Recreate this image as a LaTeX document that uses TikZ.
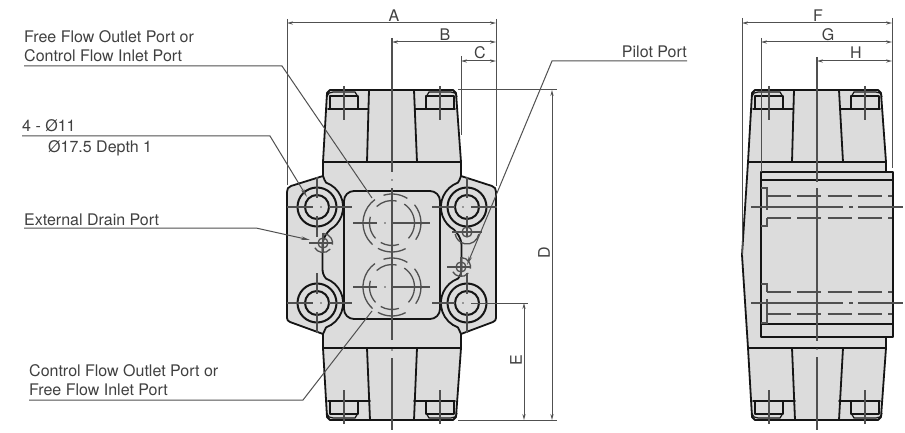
\documentclass[tikz,border=0pt]{standalone}
\usepackage{fontspec}
\setmainfont{TeX Gyre Heros}
\usetikzlibrary{arrows.meta}
\definecolor{bodygray}{HTML}{DCDCDC}
\definecolor{inkline}{HTML}{151515}
\definecolor{dimline}{HTML}{505050}
\definecolor{txtcol}{HTML}{404040}
\tikzset{
  x=1pt,y=-1pt,
  body/.style={fill=bodygray,draw=inkline,line width=1.8pt,line join=round},
  edge/.style={draw=inkline,line width=1.8pt,line cap=round,line join=round},
  thinedge/.style={draw=inkline,line width=1.2pt},
  ring/.style={draw=inkline,line width=2pt},
  centre/.style={draw=dimline,line width=1.2pt},
  hid/.style={draw=dimline,line width=1.3pt},
  dimension/.style={draw=dimline,line width=1pt,{Stealth[length=6pt,width=3.2pt]}-{Stealth[length=6pt,width=3.2pt]}},
  extline/.style={draw=dimline,line width=1pt},
  leader/.style={draw=dimline,line width=1pt},
  arrowleader/.style={draw=dimline,line width=1pt,-{Stealth[length=9pt,width=3.5pt]}},
  lab/.style={text=txtcol,font=\fontsize{16}{18}\selectfont,inner sep=0pt,anchor=base west},
  dimlab/.style={text=txtcol,font=\fontsize{16}{18}\selectfont,inner sep=0pt},
}
% one bolt head in its pocket: centre c, direction d
\newcommand{\boltpocket}[2]{%
  \draw[thinedge] ({#1-17*#2},97) .. controls ({#1-16*#2},93) and ({#1-14*#2},92) .. ({#1-11*#2},92) -- ({#1+11*#2},92) -- ({#1+14*#2},97);
  \draw[edge] ({#1-14*#2},109) -- ({#1-14*#2},96) -- ({#1+14*#2},96) -- ({#1+14*#2},109);
  \draw[centre] (#1,86) -- (#1,120);
}
% port circle of dashes
\newcommand{\portarcs}[2]{%
  \foreach \ra/\rb/\rr in {-107/-58/29,-39/35/29,62/119/29,132/234/29,-133/-78/22.5,-57/43/22.5,72/120/22.5,137/196/22.5}{
    \draw[hid] (#1,#2) ++(\ra:\rr) arc[start angle=\ra,end angle=\rb,radius=\rr];
  }
  \draw[centre] (353,#2) -- (377,#2);
  \draw[centre] (392,#2) -- (430,#2);
  \fill[dimline] (385,#2) circle (.8);
}
\begin{document}
\begin{tikzpicture}
\useasboundingbox (0,0) rectangle (905,433);
\fill[white] (0,0) rectangle (905,433);

% ---- FRONT VIEW ----
\draw[body] (330,90) -- (453,90) -- (456,93) -- (461,162) -- (461,176) -- (492,186)
  .. controls (495,187) and (496,189) .. (496,192) -- (496,318)
  .. controls (496,320) and (495,321) .. (493,322) -- (461,334) -- (461,348)
  -- (456,417) -- (453,420) -- (330,420) -- (327,417) -- (323,348) -- (323,334)
  -- (290,322) .. controls (288,321) and (287,320) .. (287,318) -- (287,192)
  .. controls (287,189) and (288,187) .. (291,186) -- (323,176) -- (323,162)
  -- (327,93) -- cycle;
\draw[edge] (323,162) -- (461,162);
\draw[edge] (323,348) -- (461,348);
\draw[edge] (369,90) -- (367,162);
\draw[edge] (414,90) -- (417,162);
\draw[edge] (367,348) -- (370,420);
\draw[edge] (417,348) -- (414,420);
\draw[edge] (328,109) -- (368.5,109);
\draw[edge] (415,109) -- (455,109);
\draw[edge] (328,401) -- (370,401);
\draw[edge] (414,401) -- (455,401);
\boltpocket{344}{1}
\boltpocket{440}{-1}
\begin{scope}[shift={(0,510)},yscale=-1]
  \boltpocket{344}{1}
  \boltpocket{440}{-1}
\end{scope}
% central recess
\draw[edge,rounded corners=10pt] (344,191) rectangle (440,319);
% scallops, left and mirrored right
\foreach \sx/\sg in {0/1,784/-1}{
\begin{scope}[shift={(\sx,0)},xscale=\sg]
  \draw[edge] (323,176) .. controls (324,179) and (325,181) .. (326,182.6)
     arc[start angle=-70,end angle=60,radius=26]
     .. controls (327,233) and (323,237) .. (322.5,245) -- (322.5,268)
     .. controls (322.5,272) and (323,275) .. (326,278.6)
     arc[start angle=-70,end angle=70,radius=26] -- (323,334);
\end{scope}}
% bolts
\foreach \bx/\by in {317/207,467/207,317/303,467/303}{
  \draw[ring] (\bx,\by) circle (19.5);
  \draw[ring] (\bx,\by) circle (12);
  \draw[centre] (\bx,{\by-30}) -- (\bx,{\by-9});
  \draw[centre] (\bx,{\by+9}) -- (\bx,{\by+30});
}
\foreach \by in {207,303}{
  \draw[centre] (287,\by) -- (313,\by);
  \fill[dimline] (321,\by) circle (.8);
  \draw[centre] (329,\by) -- (352,\by);
  \draw[centre] (432,\by) -- (455,\by);
  \fill[dimline] (463,\by) circle (.8);
}
\draw[centre] (471,207) -- (497,207);
\coordinate (eA) at (471,303);
\coordinate (eB) at (528,303);
\draw[extline] (eA) -- (eB);
% ports
\portarcs{392}{223}
\portarcs{392}{287}
% small ports
\foreach \px/\py in {323/243,461/267}{
  \draw[hid] (\px,\py) circle (5);
  \draw[hid] (\px,\py) ++(-90:9.5) arc[start angle=-90,end angle=10,radius=9.5];
  \draw[hid] (\px,\py) ++(40:9.5) arc[start angle=40,end angle=150,radius=9.5];
  \draw[centre] ({\px-14},\py) -- ({\px+10},\py);
  \draw[centre] (\px,{\py-10}) -- (\px,{\py+10});
}
\draw[hid] (467,232) ++(10:12) arc[start angle=10,end angle=170,radius=12];
\draw[hid] (467,232) circle (5);
\draw[centre] (452,232) -- (482,232);
% main centre line
\draw[centre] (392,38) -- (392,172);
\fill[dimline] (392,180) circle (.9);
\draw[centre] (392,188) -- (392,340);
\fill[dimline] (392,350) circle (.9);
\draw[centre] (392,358) -- (392,430);

% ---- SIDE VIEW ----
\draw[body] (755,90) -- (878,90) -- (881,93) -- (886,162) -- (886,348)
  -- (881,417) -- (878,420) -- (755,420) -- (752,417) -- (748,348) -- (742,255)
  -- (748,162) -- (752,93) -- cycle;
\draw[edge] (748,162) -- (886,162);
\draw[edge] (748,348) -- (886,348);
\draw[edge] (794,90) -- (792,162);
\draw[edge] (839,90) -- (843,162);
\draw[edge] (792,348) -- (795,420);
\draw[edge] (843,348) -- (839,420);
\draw[edge] (753,109) -- (793.5,109);
\draw[edge] (840,109) -- (880,109);
\draw[edge] (753,401) -- (795,401);
\draw[edge] (839,401) -- (880,401);
\boltpocket{769}{1}
\boltpocket{865}{-1}
\begin{scope}[shift={(0,510)},yscale=-1]
  \boltpocket{769}{1}
  \boltpocket{865}{-1}
\end{scope}
\draw[body] (761,172) rectangle (893,337);
\draw[edge] (761,180) -- (893,180);
\draw[edge] (761,324) -- (893,324);
\foreach \hy in {196,218,292,314}{
  \draw[hid,dash pattern=on 24pt off 6.3pt] (767,\hy) -- (892,\hy);
}
\draw[hid] (761,188) -- (767,188) -- (767,210);
\draw[hid] (761,226) -- (767,226) -- (767,218);
\draw[hid] (761,284) -- (767,284) -- (767,292);
\draw[hid] (767,299) -- (767,323) -- (761,323);
\foreach \cy in {207,303}{
  \draw[centre] (751,\cy) -- (843,\cy);
  \draw[centre] (849,\cy) -- (853,\cy);
  \draw[centre] (858,\cy) -- (903,\cy);
}
\draw[centre] (817,57) -- (817,182);
\draw[centre] (817,188) -- (817,341);
\fill[dimline] (817,349) circle (.9);
\draw[centre] (817,357) -- (817,430);

% ---- EXTENSION LINES ----
\coordinate (xAl) at (287,19);  \coordinate (xAlb) at (287,185);
\coordinate (xAr) at (496,19);  \coordinate (xArb) at (496,186);
\coordinate (xC) at (461,56);   \coordinate (xCb) at (461,135);
\coordinate (xDt) at (458,90);  \coordinate (xDtr) at (557,90);
\coordinate (xDb) at (458,420); \coordinate (xDbr) at (557,420);
\coordinate (xFl) at (742,18);  \coordinate (xFlb) at (742,255);
\coordinate (xFr) at (892,18);  \coordinate (xFrb) at (892,168);
\coordinate (xG) at (761,38);   \coordinate (xGb) at (761,172);
\draw[extline] (xAl) -- (xAlb);
\draw[extline] (xAr) -- (xArb);
\draw[extline] (xC) -- (xCb);
\draw[extline] (xDt) -- (xDtr);
\draw[extline] (xDb) -- (xDbr);
\draw[extline] (xFl) -- (xFlb);
\draw[extline] (xFr) -- (xFrb);
\draw[extline] (xG) -- (xGb);

% ---- DIMENSIONS ----
\coordinate (dAa) at (287,23);  \coordinate (dAb) at (496,23);
\coordinate (dBa) at (392,42);  \coordinate (dBb) at (496,42);
\coordinate (dCa) at (461,61);  \coordinate (dCb) at (496,61);
\coordinate (dDa) at (552,90);  \coordinate (dDb) at (552,420);
\coordinate (dEa) at (524,303); \coordinate (dEb) at (524,420);
\coordinate (dFa) at (742,23);  \coordinate (dFb) at (892,23);
\coordinate (dGa) at (761,42);  \coordinate (dGb) at (892,42);
\coordinate (dHa) at (817,61);  \coordinate (dHb) at (892,61);
\draw[dimension] (dAa) -- (dAb);
\draw[dimension] (dBa) -- (dBb);
\draw[dimension] (dCa) -- (dCb);
\draw[dimension] (dDa) -- (dDb);
\draw[dimension] (dEa) -- (dEb);
\draw[dimension] (dFa) -- (dFb);
\draw[dimension] (dGa) -- (dGb);
\draw[dimension] (dHa) -- (dHb);
\node[dimlab] (tA) at (394,15.5) {A};
\node[dimlab] (tB) at (445,34.5) {B};
\node[dimlab] (tC) at (480,52.5) {C};
\node[dimlab,rotate=90] (tD) at (544,253) {D};
\node[dimlab,rotate=90] (tE) at (516,360) {E};
\node[dimlab] (tF) at (818,15.5) {F};
\node[dimlab] (tG) at (828,34.5) {G};
\node[dimlab] (tH) at (856,52.5) {H};

% ---- LEADERS ----
\node[lab] (l1a) at (24,43) {Free Flow Outlet Port or};
\node[lab] (l1b) at (24,62) {Control Flow Inlet Port};
\node[lab] (l2a) at (22,132) {4 - Ø11};
\node[lab] (l2b) at (48,153) {Ø17.5 Depth 1};
\node[lab] (l3) at (24,225) {External Drain Port};
\node[lab] (l4a) at (29,376) {Control Flow Outlet Port or};
\node[lab] (l4b) at (29,395) {Free Flow Inlet Port};
\node[lab,anchor=base east] (l5) at (687,58) {Pilot Port};
\coordinate (p1a) at (24,66);  \coordinate (p1b) at (282,66);  \coordinate (p1c) at (372,198);
\coordinate (p2a) at (22,136); \coordinate (p2b) at (270,136); \coordinate (p2c) at (307,197);
\coordinate (p3a) at (24,228); \coordinate (p3b) at (256,228); \coordinate (p3c) at (310,240);
\coordinate (p4a) at (29,400); \coordinate (p4b) at (303,400); \coordinate (p4c) at (372,311);
\coordinate (p5a) at (687,61); \coordinate (p5b) at (552,61);  \coordinate (p5c) at (467,265);
\draw[leader] (p1a) -- (p1b) -- (p1c);
\draw[arrowleader] (p2a) -- (p2b) -- (p2c);
\draw[arrowleader] (p3a) -- (p3b) -- (p3c);
\draw[leader] (p4a) -- (p4b) -- (p4c);
\draw[arrowleader] (p5a) -- (p5b) -- (p5c);
\end{tikzpicture}
\end{document}
